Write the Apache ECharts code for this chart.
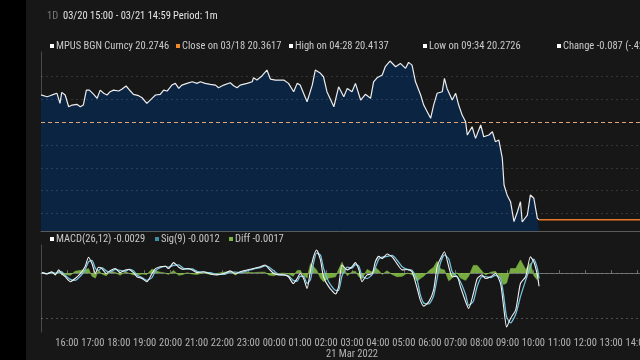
<!DOCTYPE html>
<html><head><meta charset="utf-8">
<script src="https://cdn.jsdelivr.net/npm/echarts@6/dist/echarts.min.js"></script>
<style>html,body{margin:0;padding:0;background:#000;}#c{width:640px;height:360px;}</style>
</head><body><div id="c"></div>
<script>
// ---- data ----
const security = 'MPUS BGN Curncy';
const rangeText = '03/20 15:00 - 03/21 14:59';
const periodText = 'Period: 1m';
const lastPrice = 20.2746;
const prevClose = 20.3617, prevCloseDate = '03/18';
const highPrice = 20.4137, highTime = '04:28';
const lowPrice = 20.2726, lowTime = '09:34';
const changeText = '-0.087 (-.428%)';
const macdLast = -0.0029, sigLast = -0.0012, diffLast = -0.0017;
// minutes after 03/20 15:00
const priceTimes = [0,4,14,21,29,37,44,48,56,64,72,83,91,98,105,112,122,130,137,145,153,160,168,180,187,197,207,214,226,234,245,257,265,276,284,292,303,311,319,326,338,350,361,369,380,392,404,411,423,438,446,454,461,477,489,492,500,512,523,531,543,562,573,585,593,600,616,628,635,647,654,662,678,689,701,709,720,728,740,751,763,770,778,790,797,808,821,832,844,851,859,867,879,886,902,909,917,929,934,940,952,960,967,975,983,987,998,1006,1018,1025,1037,1045,1052,1060,1068,1072,1079,1087,1095,1103,1110,1114,1126,1133,1141,1149,1153];
const priceValues = [20.3840,20.3845,20.3824,20.3833,20.3845,20.3854,20.3766,20.3862,20.3839,20.3736,
20.3751,20.3757,20.3736,20.3751,20.3882,20.3882,20.3845,20.3810,20.3882,20.3854,
20.3839,20.3868,20.3882,20.3874,20.3889,20.3918,20.3874,20.3845,20.3833,20.3815,
20.3766,20.3810,20.3839,20.3845,20.3882,20.3874,20.3926,20.3941,20.3897,20.3926,
20.3941,20.3955,20.3941,20.3955,20.3941,20.3932,20.3926,20.3903,20.3926,20.3946,
20.3920,20.3903,20.3926,20.3941,20.3955,20.3990,20.3970,20.4008,20.4058,20.3979,
20.3970,20.3970,20.3941,20.3868,20.3941,20.3926,20.3780,20.3926,20.4058,20.4029,
20.3999,20.3868,20.3736,20.3911,20.3824,20.3897,20.3868,20.3941,20.3795,20.3845,
20.3810,20.3955,20.3990,20.4014,20.4087,20.4137,20.4087,20.4116,20.4073,20.4125,
20.4101,20.3955,20.3839,20.3751,20.3635,20.3751,20.3854,20.3868,20.3985,20.3897,
20.3795,20.3854,20.3751,20.3663,20.3605,20.3488,20.3561,20.3459,20.3576,20.3473,
20.3488,20.3517,20.3430,20.3444,20.3284,20.3050,20.2963,20.2904,20.2729,20.2816,
20.2904,20.2726,20.2787,20.2963,20.2934,20.2759,20.2746];
const macdTimes = [2,14,25,33,41,48,56,68,79,91,102,110,118,126,133,141,151,160,172,183,195,203,214,222,234,245,257,265,276,288,295,307,319,329,338,350,361,376,392,407,423,438,450,461,477,492,508,519,527,539,550,562,573,584,593,600,608,616,624,631,638,647,654,666,682,689,697,709,720,728,736,743,755,767,774,782,790,801,813,824,836,848,859,871,878,886,898,909,917,925,934,944,952,963,971,983,990,1001,1010,1021,1029,1041,1052,1064,1071,1078,1087,1099,1110,1122,1133,1141,1149,1153];
const macdValues = [0.0001,-0.0002,0.0003,-0.0004,0.0007,-0.0001,-0.0008,-0.0019,-0.0012,-0.0001,
0.0014,0.0035,0.0021,-0.0001,0.0013,0.0010,-0.0001,0.0005,0.0010,0.0001,
0.0007,0.0008,0.0001,-0.0008,-0.0012,-0.0019,-0.0001,0.0010,0.0014,0.0015,
0.0010,0.0023,0.0013,0.0008,0.0010,0.0007,0.0001,0.0003,-0.0002,-0.0004,
-0.0001,0.0005,-0.0002,0.0003,0.0007,0.0010,0.0014,0.0018,0.0010,-0.0001,
-0.0004,-0.0004,-0.0008,-0.0023,-0.0012,-0.0001,-0.0012,-0.0034,0.0007,0.0036,
0.0051,0.0029,-0.0008,-0.0030,-0.0046,-0.0030,0.0018,0.0007,0.0014,0.0023,
0.0007,-0.0019,-0.0004,-0.0001,0.0025,0.0037,0.0032,0.0042,0.0036,0.0021,
0.0007,0.0008,0.0003,-0.0034,-0.0059,-0.0073,-0.0063,-0.0037,0.0014,0.0032,
0.0047,0.0014,-0.0008,-0.0007,-0.0030,-0.0063,-0.0078,-0.0045,-0.0012,-0.0004,
-0.0012,-0.0008,-0.0001,-0.0023,-0.0074,-0.0119,-0.0100,-0.0081,-0.0023,-0.0008,
0.0036,0.0025,-0.0004,-0.0029];
const sigValues = [0.0001,-0.0001,0.0001,0.0000,0.0002,0.0003,-0.0005,-0.0014,-0.0016,-0.0007,
0.0007,0.0025,0.0028,0.0010,0.0006,0.0012,0.0005,0.0002,0.0008,0.0006,
0.0004,0.0008,0.0005,-0.0004,-0.0010,-0.0016,-0.0010,0.0005,0.0012,0.0015,
0.0013,0.0017,0.0018,0.0011,0.0009,0.0009,0.0004,0.0002,0.0001,-0.0003,
-0.0003,0.0002,0.0002,0.0001,0.0005,0.0009,0.0012,0.0016,0.0014,0.0005,
-0.0003,-0.0004,-0.0006,-0.0016,-0.0018,-0.0007,-0.0007,-0.0023,-0.0014,0.0022,
0.0044,0.0040,0.0011,-0.0019,-0.0038,-0.0038,-0.0006,0.0013,0.0011,0.0019,
0.0015,-0.0006,-0.0012,-0.0003,0.0012,0.0031,0.0035,0.0037,0.0039,0.0029,
0.0014,0.0008,0.0006,-0.0016,-0.0047,-0.0066,-0.0068,-0.0050,-0.0012,0.0023,
0.0040,0.0031,0.0003,-0.0008,-0.0019,-0.0047,-0.0071,-0.0062,-0.0029,-0.0008,
-0.0008,-0.0010,-0.0005,-0.0012,-0.0049,-0.0097,-0.0110,-0.0091,-0.0052,-0.0016,
0.0014,0.0031,0.0011,-0.0012];
const diffValues = [0.0000,-0.0001,0.0002,-0.0004,0.0005,-0.0004,-0.0003,-0.0005,0.0004,0.0006,
0.0007,0.0010,-0.0007,-0.0011,0.0007,-0.0002,-0.0006,0.0003,0.0002,-0.0005,
0.0003,0.0000,-0.0004,-0.0004,-0.0002,-0.0003,0.0009,0.0005,0.0002,0.0000,
-0.0003,0.0006,-0.0005,-0.0003,0.0001,-0.0002,-0.0003,0.0001,-0.0003,-0.0001,
0.0002,0.0003,-0.0004,0.0002,0.0002,0.0001,0.0002,0.0002,-0.0004,-0.0006,
-0.0001,0.0000,-0.0002,-0.0007,0.0006,0.0006,-0.0005,-0.0011,0.0021,0.0014,
0.0007,-0.0011,-0.0019,-0.0011,-0.0008,0.0008,0.0024,-0.0006,0.0003,0.0004,
-0.0008,-0.0013,0.0008,0.0002,0.0013,0.0006,-0.0003,0.0005,-0.0003,-0.0008,
-0.0007,0.0000,-0.0003,-0.0018,-0.0012,-0.0007,0.0005,0.0013,0.0026,0.0009,
0.0007,-0.0017,-0.0011,0.0001,-0.0011,-0.0016,-0.0007,0.0017,0.0017,0.0004,
-0.0004,0.0002,0.0004,-0.0011,-0.0025,-0.0022,0.0010,0.0010,0.0029,0.0008,
0.0022,-0.0006,-0.0015,-0.0017];
const priceGridValues = [20.28,20.30,20.32,20.34,20.38,20.40];
const macdGridValues = [0.005,0,-0.005,-0.01];
const dayLabel = '21 Mar 2022';
const startHour = 15, dayLabelHour = 3;

// ---- chart ----
const FONT = "'Liberation Sans Narrow', 'Roboto Condensed', Roboto, sans-serif";
const zip = (t, v) => t.map((x, i) => [x, v[i]]);
const chart = echarts.init(document.getElementById('c'), null, {renderer: 'canvas'});
const gridMark = vals => vals.map(v => ({yAxis: v, lineStyle: {color: 'rgba(255,255,255,0.13)', type: [2, 3], width: 1}}));
function fmtHour(m) {
  if (m === 0) return '';
  const h = (startHour + m / 60) % 24;
  const s = (h < 10 ? '0' : '') + h + ':00';
  return h === dayLabelHour ? s + '\n' + dayLabel : s;
}
function legendItem(x, y, color, text) {
  return [
    {type: 'rect', shape: {x: x, y: y - 2, width: 4, height: 4}, style: {fill: color}},
    {type: 'text', x: x + 6, y: y, style: {text: text, fill: '#c9c9c9', font: '10.5px ' + FONT, textVerticalAlign: 'middle'}}
  ];
}
const graphics = [
  {type: 'rect', shape: {x: 0, y: 0, width: 26, height: 360}, style: {fill: '#000'}},
  {type: 'text', x: 47, y: 16, style: {text: '1D', fill: '#7a7a7a', font: '10.5px ' + FONT, textVerticalAlign: 'middle'}},
  {type: 'text', x: 63, y: 16, style: {text: rangeText, fill: '#e4e4e4', font: '10.5px ' + FONT, textVerticalAlign: 'middle'}},
  {type: 'text', x: 173, y: 16, style: {text: periodText, fill: '#e4e4e4', font: '10.5px ' + FONT, textVerticalAlign: 'middle'}},
  ...legendItem(50, 46, '#ffffff', security + ' ' + lastPrice.toFixed(4)),
  ...legendItem(176, 46, '#f08a2c', 'Close on ' + prevCloseDate + ' ' + prevClose.toFixed(4)),
  ...legendItem(289, 46, '#ffffff', 'High on ' + highTime + ' ' + highPrice.toFixed(4)),
  ...legendItem(423, 46, '#ffffff', 'Low on ' + lowTime + ' ' + lowPrice.toFixed(4)),
  ...legendItem(557, 46, '#ffffff', 'Change ' + changeText),
  ...legendItem(50, 239, '#ffffff', 'MACD(26,12) ' + macdLast.toFixed(4)),
  ...legendItem(155, 239, '#3b8ea8', 'Sig(9) ' + sigLast.toFixed(4)),
  ...legendItem(229, 239, '#7cb342', 'Diff ' + diffLast.toFixed(4))
];
const option = {
  backgroundColor: '#171717',
  animation: false,
  textStyle: {fontFamily: FONT},
  grid: [
    {left: 41, width: 622, top: 52, height: 179, outerBoundsMode: 'none', containLabel: false},
    {left: 41, width: 622, top: 245, height: 87, outerBoundsMode: 'none', containLabel: false}
  ],
  xAxis: [
    {type: 'value', gridIndex: 0, min: 0, max: 1440, interval: 60,
     axisLine: {show: true, lineStyle: {color: '#5a5a5a'}}, axisTick: {show: false}, axisLabel: {show: false}, splitLine: {show: false}},
    {type: 'value', gridIndex: 1, min: 0, max: 1440, interval: 60,
     axisLine: {show: true, lineStyle: {color: '#6a6a6a'}},
     axisTick: {show: true, inside: true, length: 3, lineStyle: {color: '#6a6a6a'}},
     axisLabel: {show: true, color: '#b4b4b4', fontSize: 10.5, fontFamily: FONT, margin: 6, lineHeight: 11, formatter: fmtHour, showMinLabel: false},
     splitLine: {show: false}}
  ],
  yAxis: [
    {type: 'value', gridIndex: 0, min: 20.2647, max: 20.4216, show: true,
     axisLine: {show: true, lineStyle: {color: '#4a4a4a'}}, axisTick: {show: false}, axisLabel: {show: false}, splitLine: {show: false}},
    {type: 'value', gridIndex: 1, min: -0.0130, max: 0.0062, show: true,
     axisLine: {show: true, lineStyle: {color: '#4a4a4a'}}, axisTick: {show: false}, axisLabel: {show: false}, splitLine: {show: false}}
  ],
  series: [
    {type: 'line', xAxisIndex: 0, yAxisIndex: 0, data: zip(priceTimes, priceValues), symbol: 'none',
     lineStyle: {color: '#ececec', width: 1.2}, areaStyle: {color: '#0b2442', opacity: 1, origin: 'start'},
     markLine: {silent: true, symbol: 'none', label: {show: false},
       data: [...gridMark(priceGridValues), {yAxis: prevClose, lineStyle: {color: '#e3a474', type: [4, 3], width: 1}}]}},
    {type: 'line', xAxisIndex: 0, yAxisIndex: 0, symbol: 'none',
     data: [[priceTimes[priceTimes.length - 1], lastPrice], [1440, lastPrice]],
     lineStyle: {color: '#e8782a', width: 1.6}},
    {type: 'line', xAxisIndex: 1, yAxisIndex: 1, data: zip(macdTimes, diffValues), symbol: 'none',
     lineStyle: {color: '#7cb342', width: 0.6}, areaStyle: {color: '#7cb342', opacity: 0.95},
     markLine: {silent: true, symbol: 'none', label: {show: false}, data: gridMark(macdGridValues)}},
    {type: 'line', xAxisIndex: 1, yAxisIndex: 1, data: zip(macdTimes, sigValues), symbol: 'none', smooth: 0.2,
     lineStyle: {color: '#74c0da', width: 1.3}},
    {type: 'line', xAxisIndex: 1, yAxisIndex: 1, data: zip(macdTimes, macdValues), symbol: 'none', smooth: 0.2,
     lineStyle: {color: '#f2f2f2', width: 1.1}}
  ],
  graphic: graphics
};
chart.setOption(option);
</script></body></html>
